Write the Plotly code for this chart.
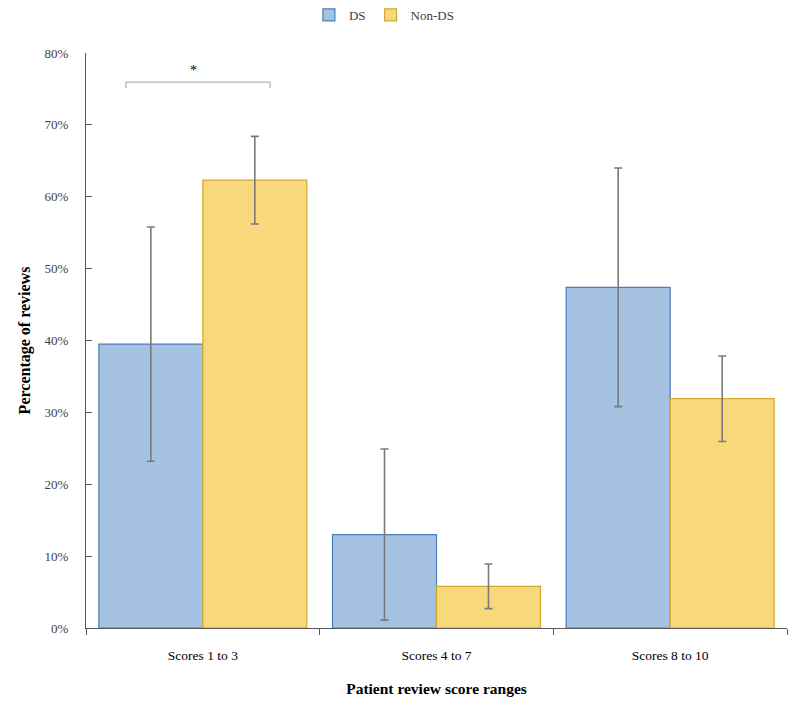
import plotly.graph_objects as go

categories = ["Scores 1 to 3", "Scores 4 to 7", "Scores 8 to 10"]
ds_values = [39.5, 13.0, 47.4]
ds_errors = [16.3, 11.9, 16.6]
nonds_values = [62.3, 5.8, 31.9]
nonds_errors = [6.1, 3.1, 5.95]
y_ticks = [0, 10, 20, 30, 40, 50, 60, 70, 80]
y_tick_labels = [f"{v}%" for v in y_ticks]

font_family = "Liberation Serif, Times New Roman, serif"
err_color = "#7a7a7a"

fig = go.Figure()
fig.add_trace(go.Bar(
    name="DS", x=categories, y=ds_values,
    marker=dict(color="#A5C2E3", line=dict(color="#4A7EBB", width=1.2)),
    error_y=dict(type="data", array=ds_errors, visible=True, color=err_color, thickness=1.6, width=4),
))
fig.add_trace(go.Bar(
    name="Non-DS", x=categories, y=nonds_values,
    marker=dict(color="#F7D97B", line=dict(color="#D4A72C", width=1.2)),
    error_y=dict(type="data", array=nonds_errors, visible=True, color=err_color, thickness=1.6, width=4),
))

# significance bracket
fig.add_shape(type="line", xref="x", yref="y", x0=-0.329, x1=0.288, y0=75.95, y1=75.95,
              line=dict(color="#a0a0a0", width=1))
fig.add_shape(type="line", xref="x", yref="y", x0=-0.329, x1=-0.329, y0=75.95, y1=75.1,
              line=dict(color="#a0a0a0", width=1))
fig.add_shape(type="line", xref="x", yref="y", x0=0.288, x1=0.288, y0=75.95, y1=75.1,
              line=dict(color="#a0a0a0", width=1))
fig.add_annotation(x=-0.038, y=77.6, xref="x", yref="y", text="*", showarrow=False,
                   font=dict(family=font_family, size=14, color="#000000"))

fig.update_layout(
    width=792, height=693,
    margin=dict(l=78, r=13, t=45, b=73, autoexpand=False),
    paper_bgcolor="white", plot_bgcolor="white",
    barmode="group", bargap=0.11, bargroupgap=0,
    font=dict(family=font_family, size=13, color="#404040"),
    showlegend=True,
    legend=dict(orientation="h", x=0.318, xanchor="left", xref="paper",
                y=0.99, yref="container", yanchor="middle",
                font=dict(family=font_family, size=13, color="#404040"),
                itemwidth=30, traceorder="normal"),
    xaxis=dict(
        showline=True, linecolor="#595959", linewidth=1.3,
        ticks="outside", ticklen=6, tickcolor="#595959", tickson="boundaries",
        tickfont=dict(family=font_family, size=13.5, color="#000000"),
        ticklabelstandoff=15,
        title=dict(text="<b>Patient review score ranges</b>", standoff=20,
                   font=dict(family=font_family, size=15.5, color="#000000")),
        showgrid=False, automargin=False,
    ),
    yaxis=dict(
        range=[0, 80], tickvals=y_ticks, ticktext=y_tick_labels,
        showline=True, linecolor="#595959", linewidth=1.3,
        ticks="inside", ticklen=6, tickcolor="#595959",
        tickfont=dict(family=font_family, size=13, color="#404040"),
        ticklabelstandoff=14,
        title=dict(text="<b>Percentage of reviews</b>", standoff=9,
                   font=dict(family=font_family, size=16, color="#000000")),
        showgrid=False, zeroline=False, automargin=False,
    ),
)

fig.write_html("out.html")
